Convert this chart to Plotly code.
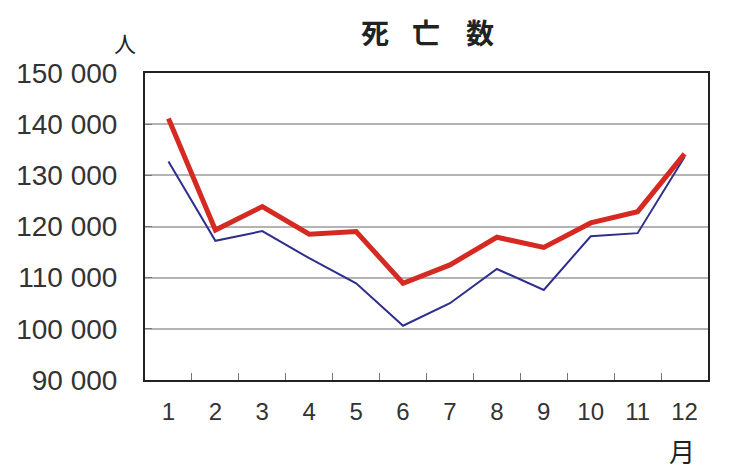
import plotly.graph_objects as go

months = ["1", "2", "3", "4", "5", "6", "7", "8", "9", "10", "11", "12"]
deaths_red = [141100, 119300, 123900, 118500, 119000, 108900, 112500, 117900, 115900, 120700, 122900, 134200]
deaths_blue = [132700, 117200, 119100, 113800, 108900, 100600, 105000, 111700, 107600, 118100, 118700, 133600]
y_ticks = [90000, 100000, 110000, 120000, 130000, 140000, 150000]
y_tick_labels = ["90 000", "100 000", "110 000", "120 000", "130 000", "140 000", "150 000"]

# the page body adds an 8px offset; compensate so the screenshot lines up
OFF = 8
W, H = 750, 471
l, r, t, b = 145 - OFF, 42 + OFF, 73 - OFF, 91 + OFF
pw, ph = W - l - r, H - t - b

fig = go.Figure()
fig.add_trace(go.Scatter(x=months, y=deaths_blue, mode="lines",
                         line=dict(color="#2e2e8c", width=2), showlegend=False))
fig.add_trace(go.Scatter(x=months, y=deaths_red, mode="lines",
                         line=dict(color="#d42a22", width=5), showlegend=False))

font_main = "Liberation Sans, Arial, sans-serif"
fig.update_layout(
    width=W, height=H,
    margin=dict(l=l, r=r, t=t, b=b, autoexpand=False),
    paper_bgcolor="white", plot_bgcolor="white",
    showlegend=False,
)
fig.update_xaxes(
    type="category", range=[-0.5, 11.5], tickson="boundaries", ticks="inside", ticklen=7,
    tickcolor="#777", tickwidth=1,
    showline=True, linecolor="#222", linewidth=2, mirror=True,
    showgrid=False,
    tickfont=dict(family=font_main, size=24, color="#333"),
    ticklabelstandoff=9,
)
fig.update_yaxes(
    range=[90000, 150000], tickvals=y_ticks, ticktext=y_tick_labels,
    ticks="inside", ticklen=7, tickcolor="#777", tickwidth=1,
    showline=True, linecolor="#222", linewidth=2, mirror=True,
    showgrid=True, gridcolor="#b4b4b4", gridwidth=1.5,
    tickfont=dict(family=font_main, size=28, color="#333"),
    ticklabelstandoff=20, zeroline=False,
)

def px_ann(text, px, py, size, weight="normal"):
    px, py = px - OFF, py - OFF
    fig.add_annotation(text=text, x=(px - l) / pw, y=(H - b - py) / ph,
                       xref="paper", yref="paper", showarrow=False,
                       xanchor="center", yanchor="middle",
                       font=dict(family="Noto Sans CJK JP", size=size, color="#222", weight=weight))

for ch, cx in zip(["死", "亡", "数"], [375, 426, 480]):
    px_ann(ch, cx, 32, 28, weight=600)
px_ann("人", 125, 42, 22)
px_ann("月", 682, 450, 26)

fig.write_html("out.html")
